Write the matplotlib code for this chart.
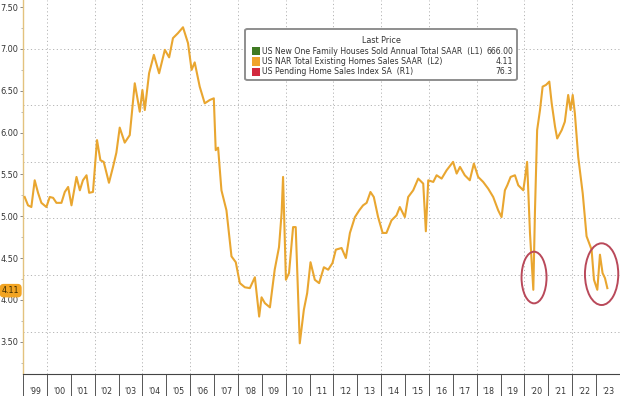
import matplotlib
matplotlib.use("Agg")
import matplotlib.pyplot as plt
from matplotlib.patches import Ellipse, FancyBboxPatch, Rectangle
from matplotlib.ticker import FixedLocator, FixedFormatter, MultipleLocator
from matplotlib.transforms import blended_transform_factory

plt.rcParams["font.family"] = ["DejaVu Sans"]

# ---------------- data ----------------
dates = [
    1999.07, 1999.21, 1999.35, 1999.49, 1999.63, 1999.77, 1999.98,
    2000.12, 2000.26, 2000.40, 2000.61, 2000.75, 2000.89,
    2001.03, 2001.24, 2001.38, 2001.51, 2001.66, 2001.77, 2001.93,
    2002.10, 2002.24, 2002.38, 2002.60, 2002.77, 2002.91,
    2003.05, 2003.26, 2003.47, 2003.68, 2003.89,
    2004.00, 2004.10, 2004.28, 2004.48, 2004.70, 2004.94,
    2005.12, 2005.28, 2005.49, 2005.70, 2005.91,
    2006.06, 2006.19, 2006.40, 2006.61, 2006.82, 2006.99,
    2007.07, 2007.17, 2007.31, 2007.52, 2007.73, 2007.91,
    2008.08, 2008.29, 2008.50, 2008.71, 2008.89, 2008.99,
    2009.13, 2009.34, 2009.54, 2009.72, 2009.83, 2009.89,
    2010.01, 2010.14, 2010.31, 2010.42, 2010.59, 2010.76, 2010.90,
    2011.04, 2011.22, 2011.40, 2011.60, 2011.78, 2011.96,
    2012.10, 2012.34, 2012.52, 2012.69, 2012.90,
    2013.08, 2013.24, 2013.39, 2013.55, 2013.69, 2013.87,
    2014.06, 2014.22, 2014.43, 2014.64, 2014.78, 2014.99,
    2015.13, 2015.34, 2015.55, 2015.76, 2015.87, 2015.97,
    2016.18, 2016.32, 2016.53, 2016.74,
    2017.01, 2017.16, 2017.30, 2017.50, 2017.71, 2017.88,
    2018.06, 2018.27, 2018.48, 2018.69, 2018.90,
    2019.04, 2019.18, 2019.28, 2019.42, 2019.60, 2019.74, 2019.95,
    2020.02, 2020.11, 2020.23, 2020.37, 2020.44, 2020.53, 2020.65, 2020.76, 2020.90,
    2021.04, 2021.14, 2021.28, 2021.37, 2021.56, 2021.69, 2021.83, 2021.93,
    2022.02, 2022.11, 2022.25, 2022.44, 2022.60, 2022.81, 2022.91,
    2023.05, 2023.16, 2023.27, 2023.37, 2023.47,
]
existing_home_sales = [
    5.23, 5.13, 5.11, 5.43, 5.28, 5.16, 5.11,
    5.23, 5.22, 5.16, 5.16, 5.29, 5.35,
    5.13, 5.47, 5.31, 5.43, 5.49, 5.28, 5.29,
    5.91, 5.67, 5.65, 5.40, 5.59, 5.76,
    6.06, 5.88, 5.97, 6.59, 6.25,
    6.51, 6.27, 6.71, 6.93, 6.71, 6.99,
    6.90, 7.13, 7.19, 7.26, 7.07,
    6.75, 6.84, 6.55, 6.35, 6.39, 6.41,
    5.79, 5.82, 5.31, 5.07, 4.52, 4.45,
    4.20, 4.15, 4.14, 4.27, 3.80, 4.03,
    3.96, 3.91, 4.36, 4.63, 5.04, 5.47,
    4.24, 4.32, 4.87, 4.87, 3.48, 3.88, 4.08,
    4.45, 4.24, 4.20, 4.39, 4.36, 4.44,
    4.60, 4.62, 4.50, 4.80, 4.99,
    5.07, 5.13, 5.16, 5.29, 5.23, 4.99,
    4.80, 4.80, 4.95, 5.01, 5.11, 4.99,
    5.23, 5.31, 5.45, 5.39, 4.82, 5.43,
    5.41, 5.49, 5.45, 5.55,
    5.65, 5.51, 5.59, 5.49, 5.43, 5.63,
    5.47, 5.41, 5.33, 5.23, 5.07,
    4.99, 5.31, 5.37, 5.47, 5.49, 5.37, 5.31,
    5.45, 5.65, 4.80, 4.12, 5.07, 6.03, 6.27, 6.55, 6.57,
    6.61, 6.35, 6.07, 5.93, 6.03, 6.13, 6.45, 6.27,
    6.45, 6.23, 5.71, 5.27, 4.76, 4.60, 4.24,
    4.12, 4.54, 4.32, 4.26, 4.14,
]

years = list(range(1999, 2024))
year_labels = ["'99", "'00", "'01", "'02", "'03", "'04", "'05", "'06", "'07",
               "'08", "'09", "'10", "'11", "'12", "'13", "'14", "'15", "'16",
               "'17", "'18", "'19", "'20", "'21", "'22", "'23"]
y_ticks = [3.50, 4.00, 4.50, 5.00, 5.50, 6.00, 6.50, 7.00, 7.50]
last_price = 4.11

legend_title = "Last Price"
legend_names = ["US New One Family Houses Sold Annual Total SAAR  (L1)",
                "US NAR Total Existing Homes Sales SAAR  (L2)",
                "US Pending Home Sales Index SA  (R1)"]
legend_values = ["666.00", "4.11", "76.3"]
legend_colors = ["#3f7a22", "#f0a42c", "#d2283e"]

# ---------------- figure ----------------
W, H = 620, 396
fig = plt.figure(figsize=(W / 100, H / 100), dpi=100)
left_px, bottom_px = 23.0, 374
ax = fig.add_axes([left_px / W, 1 - bottom_px / H, 1 - left_px / W, bottom_px / H])

line_color = "#e9a630"
ax.plot(dates, existing_home_sales, color=line_color, lw=1.5, zorder=3,
        solid_joinstyle="round")

ax.set_xlim(1999, 2024)
ax.set_ylim(3.113, 7.586)

# y axis
ax.yaxis.set_major_locator(FixedLocator(y_ticks))
ax.yaxis.set_major_formatter(FixedFormatter([f"{v:.2f}" for v in y_ticks]))
ax.yaxis.set_minor_locator(MultipleLocator(0.25))
ax.tick_params(axis="y", which="major", length=2.4, width=0.7, color="#8a8a8a",
               labelsize=5.9, labelcolor="#333333", pad=0.8)
ax.tick_params(axis="y", which="minor", length=1.2, width=0.6, color="#b0b0b0")

# gridlines of the (hidden) right-hand scale
for gy in [7.0, 6.33, 5.648, 4.979, 4.297, 3.615]:
    ax.axhline(gy, color="#b4b4b4", lw=0.7, ls=(0, (1.2, 2.6)), zorder=1)

# x axis: cell separators at year starts, labels centred in cells
ax.xaxis.set_major_locator(FixedLocator(years + [2024]))
ax.xaxis.set_major_formatter(FixedFormatter([""] * (len(years) + 1)))
ax.xaxis.set_minor_locator(FixedLocator([y + 0.5 for y in years]))
ax.xaxis.set_minor_formatter(FixedFormatter(year_labels))
ax.tick_params(axis="x", which="major", length=18, width=0.7, color="#555555",
               direction="out")
ax.tick_params(axis="x", which="minor", length=0, pad=9.6, labelsize=5.7,
               labelcolor="#333333")
for y in years:
    if y % 2 == 0:
        ax.axvline(y, color="#b4b4b4", lw=0.7, ls=(0, (1.2, 2.6)), zorder=1)

for s in ["top", "right"]:
    ax.spines[s].set_visible(False)
ax.spines["left"].set_color("#e3c27e")
ax.spines["left"].set_linewidth(1.0)
ax.spines["bottom"].set_color("#444444")
ax.spines["bottom"].set_linewidth(0.8)

# last price tag on the left axis
trans = blended_transform_factory(ax.transAxes, ax.transData)
ax.text(-0.006, last_price, f"{last_price:.2f}", transform=trans, ha="right",
        va="center", fontsize=5.8, color="#3a2a00", zorder=10, clip_on=False,
        bbox=dict(boxstyle="round,pad=0.28,rounding_size=0.5", fc="#f2a423",
                  ec="none"))

# red circles
ax.add_patch(Ellipse((2020.40, 4.267), 1.047, 0.618, fill=False,
                     ec="#b9495a", lw=1.4, zorder=4))
ax.add_patch(Ellipse((2023.23, 4.307), 1.395, 0.738, fill=False,
                     ec="#b9495a", lw=1.4, zorder=4))

# legend box (figure pixel layout)
def fx(px):
    return px / W

def fy(py):
    return 1 - py / H

box = FancyBboxPatch((fx(245), fy(80)), fx(517) - fx(245), fy(29) - fy(80),
                     boxstyle="round,pad=0,rounding_size=0.004",
                     transform=fig.transFigure, fc="white", ec="#8e8e8e",
                     lw=1.4, zorder=20)
fig.patches.append(box)
fig.text(fx(381.7), fy(40.7), legend_title, ha="center", va="center",
         fontsize=5.8, color="#333333", zorder=21)
rows_y = [51, 61.5, 71.7]
for name, val, col, ry in zip(legend_names, legend_values, legend_colors, rows_y):
    fig.patches.append(Rectangle((fx(252), fy(ry + 4)), 8 / W, 8 / H,
                                 transform=fig.transFigure, fc=col, ec="none",
                                 zorder=21))
    fig.text(fx(262), fy(ry), name, ha="left", va="center", fontsize=5.6,
             color="#333333", zorder=21)
    fig.text(fx(513), fy(ry), val, ha="right", va="center", fontsize=5.6,
             color="#333333", zorder=21)

fig.savefig("out.png", dpi=100)
